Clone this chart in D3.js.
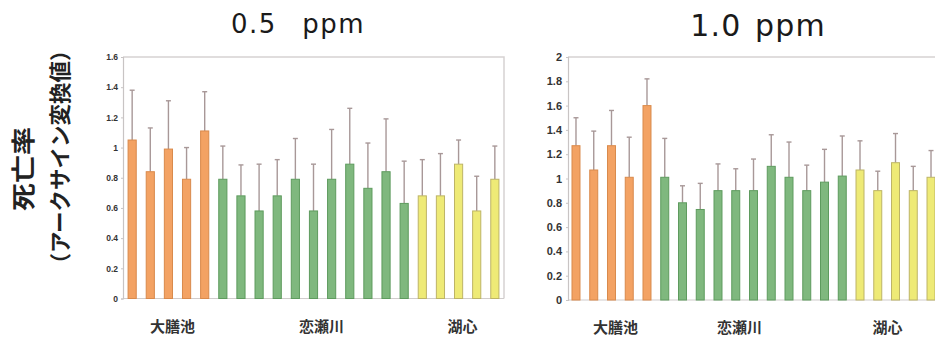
<!DOCTYPE html>
<html><head><meta charset="utf-8">
<script src="https://cdn.jsdelivr.net/npm/d3@7"></script>
<style>body{margin:0;background:#fff}svg{display:block}</style>
</head><body>
<svg id="c" width="935" height="338"></svg>
<script>
// ---- data ----
const groups = ["大膳池", "恋瀬川", "湖心"];
const groupSizes = [5, 11, 5];
const panelTitles = ["0.5  ppm", "1.0  ppm"];
const yTicksLeft = [0, 0.2, 0.4, 0.6, 0.8, 1, 1.2, 1.4, 1.6];
const yTicksRight = [0, 0.2, 0.4, 0.6, 0.8, 1, 1.2, 1.4, 1.6, 1.8, 2];
const meansLeft = [1.05, 0.84, 0.99, 0.79, 1.11, 0.79, 0.68, 0.58, 0.68, 0.79, 0.58, 0.79, 0.89, 0.73, 0.84, 0.63, 0.68, 0.68, 0.89, 0.58, 0.79];
const upperLeft = [1.38, 1.13, 1.31, 1.00, 1.37, 1.01, 0.885, 0.89, 0.92, 1.06, 0.89, 1.12, 1.26, 1.03, 1.19, 0.91, 0.92, 0.96, 1.05, 0.81, 1.01];
const meansRight = [1.27, 1.07, 1.27, 1.01, 1.60, 1.01, 0.80, 0.745, 0.90, 0.90, 0.90, 1.10, 1.01, 0.90, 0.97, 1.02, 1.07, 0.90, 1.13, 0.90, 1.01];
const upperRight = [1.50, 1.39, 1.56, 1.34, 1.82, 1.33, 0.94, 0.96, 1.12, 1.08, 1.16, 1.36, 1.30, 1.11, 1.24, 1.35, 1.31, 1.06, 1.37, 1.10, 1.23];
const yTitle1 = "死亡率";
const yTitle2 = "（アークサイン変換値）";

// ---- styling ----
const fills = ["#F3A263", "#7FB87E", "#EEEA76"];
const strokes = ["#D98A4C", "#5E9B5E", "#BDB466"];
const groupOf = [];
groupSizes.forEach((n, g) => { for (let i = 0; i < n; i++) groupOf.push(g); });

const svg = d3.select("#c");

function panel(cfg) {
  const n = cfg.means.length;
  const x = d3.scaleBand().domain(d3.range(n)).range([cfg.x0, cfg.x1])
    .paddingInner(0.55).paddingOuter(cfg.po);
  const y = d3.scaleLinear().domain([0, cfg.ymax]).range([cfg.yb, cfg.yt]);
  const g = svg.append("g");

  // frame
  g.append("path")
    .attr("d", `M${cfg.x0},${cfg.yt}H${cfg.frameRight}V${cfg.yb}`)
    .attr("fill", "none").attr("stroke", "#d6d2d2").attr("stroke-width", 1.5);
  g.append("line").attr("x1", cfg.x0).attr("x2", cfg.frameRight)
    .attr("y1", cfg.yb).attr("y2", cfg.yb).attr("stroke", "#d0cccc").attr("stroke-width", 1);

  // y axis
  const ax = g.append("g").attr("transform", `translate(${cfg.x0},0)`)
    .call(d3.axisLeft(y).tickValues(cfg.ticks).tickSize(2).tickPadding(cfg.tp).tickFormat(d3.format("~g")));
  ax.select(".domain").attr("stroke", "#c8c4c4").attr("stroke-width", 1.2);
  ax.selectAll(".tick line").attr("stroke", "#c8c4c4");
  ax.selectAll("text").attr("fill", "#333").attr("font-family", "Liberation Sans, Arial, sans-serif")
    .attr("font-weight", "bold").attr("font-size", cfg.tickFs);

  // error bars
  const bw = x.bandwidth();
  const eb = g.append("g").attr("stroke", "#a89898").attr("stroke-width", 1.4);
  cfg.means.forEach((m, i) => {
    const cx = x(i) + bw / 2;
    eb.append("line").attr("x1", cx).attr("x2", cx).attr("y1", y(m)).attr("y2", y(cfg.upper[i]));
    eb.append("line").attr("x1", cx - 2.5).attr("x2", cx + 2.5).attr("y1", y(cfg.upper[i])).attr("y2", y(cfg.upper[i]));
  });

  // bars
  g.append("g").selectAll("rect").data(cfg.means).join("rect")
    .attr("x", (d, i) => x(i)).attr("width", bw)
    .attr("y", d => y(d)).attr("height", d => y(0) - y(d))
    .attr("fill", (d, i) => fills[groupOf[i]])
    .attr("stroke", (d, i) => strokes[groupOf[i]]).attr("stroke-width", 1);

  // group labels
  let start = 0;
  groups.forEach((name, gi) => {
    const mid = start + (groupSizes[gi] - 1) / 2;
    start += groupSizes[gi];
    g.append("text").attr("x", x(mid) + bw / 2 + cfg.labelDx[gi]).attr("y", cfg.labelY)
      .attr("text-anchor", "middle").attr("font-family", "Noto Sans CJK JP, sans-serif")
      .attr("font-weight", "bold").attr("font-size", cfg.labelFs).attr("fill", "#333").text(name);
  });

  // title
  g.append("text").attr("x", cfg.titleX).attr("y", cfg.titleY).attr("text-anchor", "middle")
    .attr("font-family", "DejaVu Sans, sans-serif").attr("font-size", cfg.titleFs)
    .attr("letter-spacing", cfg.titleLs).attr("word-spacing", cfg.titleWs)
    .attr("fill", "#1a1a1a").attr("xml:space", "preserve").style("white-space", "pre").text(cfg.title);
}

panel({ means: meansLeft, upper: upperLeft, ticks: yTicksLeft, ymax: 1.6,
  x0: 123, x1: 504, frameRight: 504, po: 0.28, yb: 298.5, yt: 57, tp: 3, tickFs: 8.5,
  labelY: 332, labelFs: 15, labelDx: [4, 8, 4],
  title: panelTitles[0], titleX: 298, titleY: 33, titleFs: 26, titleLs: 1.5, titleWs: 3 });

panel({ means: meansRight, upper: upperRight, ticks: yTicksRight, ymax: 2,
  x0: 568, x1: 939, frameRight: 945, po: 0.225, yb: 300, yt: 57, tp: 4, tickFs: 11,
  labelY: 333, labelFs: 15, labelDx: [4, -14, -8],
  title: panelTitles[1], titleX: 758, titleY: 36, titleFs: 30, titleLs: 1.2, titleWs: -4 });

// y axis titles
svg.append("text").attr("transform", "translate(32,169) rotate(-90) scale(1,0.85)").attr("text-anchor", "middle")
  .attr("font-family", "Noto Sans CJK JP, sans-serif").attr("font-weight", "bold").attr("font-size", 28)
  .attr("fill", "#222").text(yTitle1);
svg.append("text").attr("transform", "translate(68,157) rotate(-90)").attr("text-anchor", "middle")
  .attr("font-family", "Noto Sans CJK JP, sans-serif").attr("font-weight", "bold").attr("font-size", 21.5)
  .attr("fill", "#222").text(yTitle2);
</script>
</body></html>
